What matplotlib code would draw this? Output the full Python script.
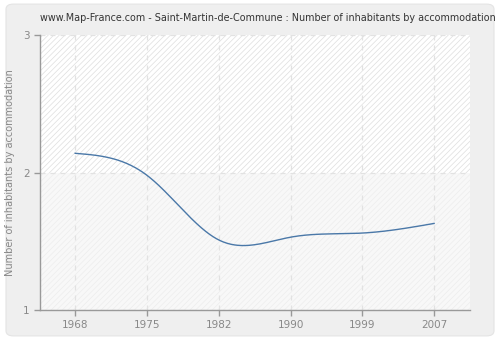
import numpy as np
import matplotlib
matplotlib.use("Agg")
import matplotlib.pyplot as plt
from matplotlib.patches import FancyBboxPatch

years = ["1968", "1975", "1982", "1990", "1999", "2007"]
values = [2.14, 1.98, 1.51, 1.53, 1.56, 1.63]
yticks = [1, 2, 3]
title = "www.Map-France.com - Saint-Martin-de-Commune : Number of inhabitants by accommodation"
ylabel = "Number of inhabitants by accommodation"


def natural_spline(x, y, n=400):
    x = np.asarray(x, float); y = np.asarray(y, float)
    k = len(x); h = np.diff(x)
    A = np.zeros((k, k)); b = np.zeros(k)
    A[0, 0] = A[-1, -1] = 1
    for i in range(1, k - 1):
        A[i, i - 1] = h[i - 1]; A[i, i] = 2 * (h[i - 1] + h[i]); A[i, i + 1] = h[i]
        b[i] = 3 * ((y[i + 1] - y[i]) / h[i] - (y[i] - y[i - 1]) / h[i - 1])
    c = np.linalg.solve(A, b)
    xs = np.linspace(x[0], x[-1], n); ys = np.empty_like(xs)
    for j, xv in enumerate(xs):
        i = min(np.searchsorted(x, xv, side="right") - 1, k - 2)
        d = xv - x[i]
        bb = (y[i + 1] - y[i]) / h[i] - h[i] * (2 * c[i] + c[i + 1]) / 3
        dd = (c[i + 1] - c[i]) / (3 * h[i])
        ys[j] = y[i] + bb * d + c[i] * d ** 2 + dd * d ** 3
    return xs, ys


plt.rcParams["hatch.linewidth"] = 0.5
fig = plt.figure(figsize=(5, 3.4), dpi=100)
fig.patch.set_facecolor("white")
bg = FancyBboxPatch((0.012, 0.012), 0.976, 0.976, boxstyle="round,pad=0,rounding_size=0.015",
                    transform=fig.transFigure, facecolor="#efefef", edgecolor="#e4e4e4",
                    linewidth=0.8, zorder=-10)
fig.add_artist(bg)

ax = fig.add_axes([0.08, 0.088, 0.86, 0.809])
ax.set_zorder(1)
ax.set_facecolor("#f9f9f9")
ax.axhspan(2, 3, facecolor="white", edgecolor="#dedede", hatch="//////", linewidth=0, zorder=0)
ax.axhspan(1, 2, facecolor="#f8f8f8", edgecolor="#ededed", hatch="//////", linewidth=0, zorder=0)

xi = np.arange(len(years))
xs, ys = natural_spline(xi, values)
ax.plot(xs, ys, color="#4a78a8", linewidth=1.0, zorder=3)

ax.set_xlim(-0.49, 5.5)
ax.set_ylim(1, 3)
ax.set_xticks(xi)
ax.set_xticklabels(years)
ax.set_yticks(yticks)
ax.grid(True, color="#e2e2e2", linestyle=(0, (4, 4)), linewidth=0.9, zorder=1)
ax.set_axisbelow(True)
for s in ["top", "right"]:
    ax.spines[s].set_visible(False)
for s in ["left", "bottom"]:
    ax.spines[s].set_color("#999999")
    ax.spines[s].set_linewidth(1.0)
ax.tick_params(colors="#999999", labelcolor="#888888", labelsize=7.5, length=4, width=1)
ax.set_ylabel(ylabel, color="#888888", fontsize=7, labelpad=6)
fig.text(0.535, 0.948, title, ha="center", va="center", fontsize=6.9, color="#333333")

fig.savefig("out.png", dpi=100, facecolor=fig.get_facecolor())
